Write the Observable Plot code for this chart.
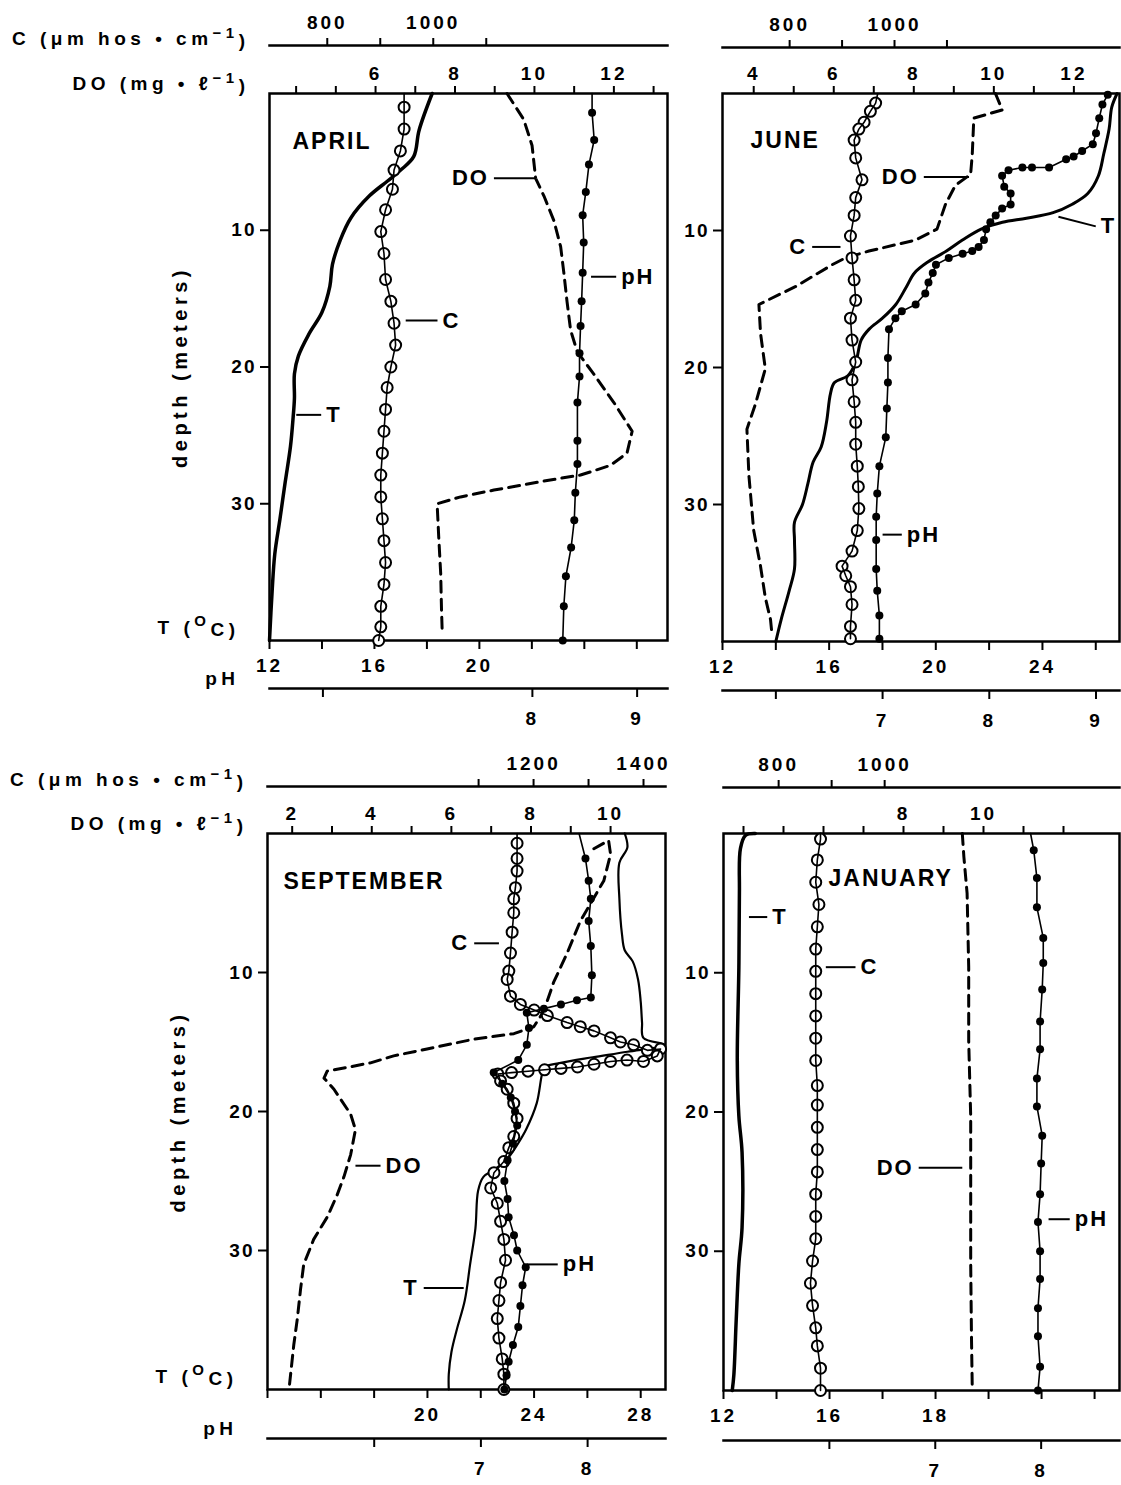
<!DOCTYPE html>
<html><head><meta charset="utf-8">
<script src="https://cdn.jsdelivr.net/npm/d3@7"></script>
<script src="https://cdn.jsdelivr.net/npm/@observablehq/plot@0.6"></script>
<style>
body{margin:0;background:#fff;}
#chart{position:relative;width:1121px;height:1485px;overflow:hidden;background:#fff;}
#chart svg{position:absolute;left:0;}
</style></head><body><div id="chart"></div>
<script>
// ---------- DATA: [depth (m), value] ----------
// APRIL
const aprilT = [[0,18.2],[2.7,17.7],[4.6,17.5],[5.6,17.0],[6.4,16.5],[7.5,15.8],[9.1,15.1],[10.7,14.7],[12.5,14.4],[14.1,14.3],[16.0,14.0],[17.6,13.5],[19.2,13.1],[20.5,12.95],[22.3,12.95],[23.7,12.9],[25.8,12.8],[28.4,12.6],[31.1,12.4],[33.7,12.2],[36.4,12.1],[40,12.0]];
const aprilDO = [[0,9.31],[1.9,9.73],[3.8,9.94],[6.2,10.03],[7.5,10.24],[9.3,10.49],[11.2,10.66],[13.1,10.74],[15.2,10.82],[17.3,10.91],[18.9,11.08],[20.5,11.49],[22.6,12.0],[24.7,12.46],[26.3,12.33],[27.2,11.91],[27.9,11.16],[28.3,10.32],[29.0,8.98],[29.5,8.14],[30.0,7.55],[32.4,7.59],[35.1,7.64],[37.7,7.66],[39.5,7.68]];
const aprilC = [[0,945],[1.0,945],[2.6,945],[4.2,938],[5.6,926],[7.0,923],[8.5,910],[10.1,901],[11.7,907],[13.6,910],[15.2,920],[16.8,926],[18.4,929],[20.0,920],[21.5,913],[23.1,910],[24.7,907],[26.3,904],[27.9,901],[29.5,901],[31.1,904],[32.7,907],[34.3,910],[35.9,907],[37.5,901],[39.0,901],[40,897]];
const aprilPH = [[0,8.57],[1.4,8.57],[3.4,8.59],[5.2,8.54],[7.2,8.51],[8.9,8.48],[10.9,8.49],[13.1,8.48],[15.2,8.47],[17.0,8.46],[19.0,8.45],[20.7,8.45],[22.6,8.43],[25.4,8.43],[27.1,8.43],[29.2,8.41],[31.2,8.40],[33.2,8.37],[35.3,8.32],[37.5,8.30],[40,8.29]];
// JUNE
const juneT = [[0,26.8],[1.0,26.6],[2.6,26.5],[4.4,26.3],[6.0,26.1],[7.3,25.7],[8.1,25.1],[8.7,24.4],[9.1,23.4],[9.4,22.5],[9.9,21.7],[10.7,21.0],[11.5,20.4],[12.3,19.7],[13.1,19.2],[14.1,18.9],[15.4,18.5],[16.4,18.0],[17.2,17.5],[18.0,17.2],[19.6,17.0],[20.6,16.7],[21.1,16.2],[21.9,16.05],[24.0,15.9],[25.8,15.7],[26.9,15.4],[28.5,15.2],[30.0,15.0],[31.3,14.7],[32.6,14.7],[34.7,14.7],[36.3,14.5],[38.4,14.2],[40,14.0]];
const juneDO = [[0,10.04],[1.2,10.21],[1.8,9.5],[4.5,9.46],[5.9,9.42],[6.7,9.04],[8.1,8.79],[9.9,8.58],[10.7,8.04],[11.5,6.88],[12.0,6.29],[12.5,5.96],[14.1,5.04],[15.4,4.13],[17.5,4.17],[20.1,4.29],[22.7,4.04],[24.5,3.83],[27.9,3.88],[31.9,4.0],[34.5,4.17],[36.8,4.29],[38.4,4.42],[39.3,4.45]];
const juneC = [[0,968],[0.7,964],[1.3,954],[2.1,942],[2.6,932],[3.4,923],[4.7,926],[6.3,938],[7.6,926],[8.9,923],[10.4,916],[12.0,919],[13.6,923],[15.1,926],[16.4,916],[18.0,919],[19.6,926],[20.9,919],[22.5,923],[24.0,926],[25.6,926],[27.2,929],[28.7,931],[30.3,932],[31.9,929],[33.4,919],[34.5,900],[35.2,907],[36.0,916],[37.3,919],[38.9,916],[39.8,916]];
const junePH = [[0.1,9.11],[0.8,9.06],[1.8,9.03],[2.9,9.0],[3.7,8.97],[4.2,8.87],[4.6,8.79],[4.8,8.72],[5.4,8.56],[5.4,8.40],[5.4,8.31],[5.6,8.18],[6.0,8.12],[6.8,8.14],[7.3,8.2],[8.1,8.2],[8.4,8.12],[8.9,8.06],[9.4,8.01],[9.9,7.97],[10.7,7.95],[11.2,7.90],[11.5,7.84],[11.7,7.75],[12.0,7.62],[12.5,7.50],[13.1,7.47],[13.8,7.43],[14.6,7.40],[15.4,7.31],[15.9,7.18],[16.4,7.12],[17.2,7.06],[19.3,7.05],[21.1,7.05],[23.0,7.04],[25.1,7.03],[27.2,6.97],[29.2,6.95],[30.9,6.94],[32.6,6.94],[34.7,6.94],[36.3,6.95],[38.1,6.97],[39.8,6.97]];
// SEPTEMBER
const septT = [[0,27.4],[1.0,27.5],[2.1,27.2],[4.7,27.2],[7.3,27.3],[8.4,27.4],[9.2,27.7],[10.5,27.9],[12.1,28.0],[13.6,28.05],[14.7,28.1],[15.2,28.9],[15.7,27.5],[16.1,26.2],[16.5,25.0],[16.8,24.4],[17.3,24.3],[19.4,24.1],[21.3,23.7],[22.3,23.4],[23.4,23.0],[24.2,22.5],[24.7,22.1],[25.7,21.9],[28.4,21.8],[31.0,21.6],[33.6,21.4],[35.7,21.1],[37.3,20.9],[38.9,20.8],[40,20.8]];
const septDO = [[1.1,9.58],[0.5,9.95],[1.5,10.0],[3.4,9.83],[6.3,9.24],[8.6,8.91],[10.7,8.57],[12.8,8.32],[13.9,8.07],[14.4,7.57],[14.8,6.56],[15.5,5.39],[16.0,4.55],[16.5,3.97],[17.1,2.88],[17.6,2.80],[18.4,3.05],[20.2,3.47],[21.3,3.59],[23.1,3.47],[24.7,3.30],[26.0,3.13],[27.6,2.88],[29.2,2.54],[31.0,2.29],[32.8,2.21],[34.9,2.13],[36.8,2.04],[40,1.92]];
const septC = [[0,1170],[0.7,1170],[1.8,1170],[2.7,1170],[3.9,1167],[4.7,1164],[5.7,1164],[7.1,1161],[8.6,1158],[9.9,1155],[10.5,1152],[11.7,1158],[12.3,1176],[12.7,1201],[13.1,1225],[13.6,1261],[13.9,1285],[14.2,1310],[14.7,1340],[15.0,1358],[15.2,1382],[15.6,1407],[15.5,1431],[16.0,1425],[16.4,1400],[16.3,1370],[16.4,1340],[16.6,1310],[16.8,1280],[16.9,1250],[17.0,1220],[17.1,1190],[17.2,1160],[17.3,1135],[17.8,1140],[18.4,1152],[19.4,1164],[20.5,1170],[21.8,1164],[22.6,1155],[23.6,1146],[24.4,1128],[25.5,1122],[26.6,1134],[27.9,1140],[29.2,1146],[30.7,1149],[32.3,1140],[33.6,1137],[34.9,1134],[36.3,1137],[37.8,1143],[38.9,1146],[40,1146]];
const septPH = [[0,7.92],[1.8,7.98],[3.4,8.01],[4.7,8.03],[6.3,8.01],[8.1,8.03],[10.2,8.04],[11.8,8.03],[12.0,7.90],[12.3,7.75],[12.6,7.59],[12.9,7.43],[14.0,7.45],[15.2,7.43],[16.3,7.35],[17.2,7.12],[18.0,7.20],[19.0,7.28],[20.0,7.32],[21.0,7.34],[22.3,7.30],[23.5,7.25],[25.0,7.22],[26.3,7.25],[27.6,7.26],[28.9,7.31],[30.0,7.34],[31.2,7.42],[32.5,7.39],[34.0,7.37],[35.5,7.35],[36.8,7.30],[38.0,7.26],[39.0,7.24],[40,7.22]];
// JANUARY
const janT = [[0,13.2],[0.13,12.83],[1.07,12.64],[4.27,12.6],[9.6,12.58],[16.3,12.52],[20.3,12.58],[22.9,12.7],[28.3,12.7],[30.9,12.58],[34.9,12.48],[38.9,12.39],[40,12.33]];
const janDO = [[0,9.47],[1.7,9.51],[4.3,9.59],[9.6,9.63],[14.9,9.63],[20.3,9.68],[25.6,9.68],[30.9,9.68],[36.3,9.70],[40,9.72]];
const janC = [[0,879],[0.4,879],[1.9,873],[3.5,870],[5.1,876],[6.7,873],[8.3,870],[9.9,870],[11.5,870],[13.1,870],[14.7,870],[16.3,870],[18.1,873],[19.5,873],[21.1,873],[22.7,873],[24.3,873],[25.9,870],[27.5,870],[29.1,870],[30.7,864],[32.3,860],[33.9,864],[35.5,870],[36.8,873],[38.4,879],[40,879]];
const janPH = [[0,7.90],[1.2,7.93],[3.2,7.96],[5.3,7.96],[7.5,8.02],[9.3,8.02],[11.2,8.01],[13.5,7.99],[15.5,7.99],[17.6,7.96],[19.6,7.96],[21.7,8.01],[23.7,8.0],[25.9,7.99],[27.9,7.97],[30.0,7.99],[32.0,7.99],[34.1,7.97],[36.1,7.97],[38.3,7.99],[40,7.97]];

// ---------- TICKS & TICK LABELS ----------
const depthTicks = [10, 20, 30];
const aprilTTicks = [12,14,16,18,20,22,24,26], aprilTLabels = [[12,"12"],[16,"16"],[20,"20"]];
const aprilDOTicks = [4,5,6,7,8,9,10,11,12,13], aprilDOLabels = [[6,"6"],[8,"8"],[10,"10"],[12,"12"]];
const aprilCTicks = [800,900,1000,1100], aprilCLabels = [[800,"800"],[1000,"1000"]];
const aprilPHTicks = [6,8,9], aprilPHLabels = [[8,"8"],[9,"9"]];
const juneTTicks = [12,14,16,18,20,22,24,26], juneTLabels = [[12,"12"],[16,"16"],[20,"20"],[24,"24"]];
const juneDOTicks = [4,5,6,7,8,9,10,11,12], juneDOLabels = [[4,"4"],[6,"6"],[8,"8"],[10,"10"],[12,"12"]];
const juneCTicks = [800,900,1000,1100], juneCLabels = [[800,"800"],[1000,"1000"]];
const junePHTicks = [6,7,8,9], junePHLabels = [[7,"7"],[8,"8"],[9,"9"]];
const septTTicks = [14,16,18,20,22,24,26,28], septTLabels = [[20,"20"],[24,"24"],[28,"28"]];
const septDOTicks = [2,3,4,5,6,7,8,9,10], septDOLabels = [[2,"2"],[4,"4"],[6,"6"],[8,"8"],[10,"10"]];
const septCTicks = [1100,1200,1300,1400], septCLabels = [[1200,"1200"],[1400,"1400"]];
const septPHTicks = [6,7,8], septPHLabels = [[7,"7"],[8,"8"]];
const janTTicks = [12,14,16,18,20,22,24,26], janTLabels = [[12,"12"],[16,"16"],[20,"18"]];
const janDOTicks = [4,5,6,7,8,9,10,11,12], janDOLabels = [[8,"8"],[10,"10"]];
const janCTicks = [800,900,1000], janCLabels = [[800,"800"],[1000,"1000"]];
const janPHTicks = [6,7,8], janPHLabels = [[7,"7"],[8,"8"]];

// ---------- AXIS TITLES ----------
const cTitle = "C (μm hos • cm⁻¹)", doTitle = "DO (mg • ℓ⁻¹)", tTitle = "T (°C)", phTitle = "pH", depthTitle = "depth (meters)";
const titleParts = new Map([
  [cTitle, ["C (μm hos • cm", "−1", ")"]],
  [doTitle, ["DO (mg • ℓ", "−1", ")"]],
  [tTitle, ["T (", "O", "C)"]]
]);

// ---------- ANNOTATIONS (series units, depth) ----------
const aprilNotes = [
  {s:"DO", x1:8.98, y1:6.2, x2:10.03, y2:6.2, text:"DO", side:"end"},
  {s:"pH", x1:8.56, y1:13.4, x2:8.80, y2:13.4, text:"pH", side:"start"},
  {s:"C", x1:948, y1:16.6, x2:1008, y2:16.6, text:"C", side:"start"},
  {s:"T", x1:13.02, y1:23.5, x2:13.97, y2:23.5, text:"T", side:"start"}];
const juneNotes = [
  {s:"DO", x1:8.25, y1:6.1, x2:9.38, y2:6.1, text:"DO", side:"end"},
  {s:"C", x1:843, y1:11.2, x2:897, y2:11.2, text:"C", side:"end"},
  {s:"T", x1:24.6, y1:9.0, x2:26.0, y2:9.7, text:"T", side:"start"},
  {s:"pH", x1:7.0, y1:32.2, x2:7.18, y2:32.2, text:"pH", side:"start"}];
const septNotes = [
  {s:"C", x1:1092, y1:7.9, x2:1137, y2:7.9, text:"C", side:"end"},
  {s:"DO", x1:3.59, y1:23.9, x2:4.22, y2:23.9, text:"DO", side:"start"},
  {s:"T", x1:19.86, y1:32.7, x2:21.36, y2:32.7, text:"T", side:"end"},
  {s:"pH", x1:7.43, y1:31.0, x2:7.72, y2:31.0, text:"pH", side:"start"}];
const janNotes = [
  {s:"T", x1:12.96, y1:6.0, x2:13.65, y2:6.0, text:"T", side:"start"},
  {s:"C", x1:889, y1:9.6, x2:945, y2:9.6, text:"C", side:"start"},
  {s:"DO", x1:8.38, y1:24.0, x2:9.47, y2:24.0, text:"DO", side:"end"},
  {s:"pH", x1:8.07, y1:27.7, x2:8.27, y2:27.7, text:"pH", side:"start"}];

// ---------- LAYOUT ----------
const W = 1121;
const rows = [{top:0, h:740}, {top:740, h:745}];
const panels = [
  {name:"APRIL", row:0, left:269, right:667, top:93, bottom:640, cLine:45, phLine:688, yTitle:true, nameDx:23, nameDy:39, tWidth:3.5,
   tDomain:[12,27.17], doDomain:[3.33,13.35], cDomain:[691,1442], phDomain:[5.49,9.29],
   T:aprilT, DO:aprilDO, C:aprilC, pH:aprilPH, notes:aprilNotes,
   tTicks:aprilTTicks, tLabels:aprilTLabels, doTicks:aprilDOTicks, doLabels:aprilDOLabels, cTicks:aprilCTicks, cLabels:aprilCLabels, phTicks:aprilPHTicks, phLabels:aprilPHLabels},
  {name:"JUNE", row:0, left:722, right:1119, top:93, bottom:641, cLine:47, phLine:690, yTitle:false, nameDx:28, nameDy:38, tWidth:3,
   tDomain:[12,26.89], doDomain:[3.22,13.14], cDomain:[672,1429], phDomain:[5.5,9.22],
   T:juneT, DO:juneDO, C:juneC, pH:junePH, notes:juneNotes,
   tTicks:juneTTicks, tLabels:juneTLabels, doTicks:juneDOTicks, doLabels:juneDOLabels, cTicks:juneCTicks, cLabels:juneCLabels, phTicks:junePHTicks, phLabels:junePHLabels},
  {name:"SEPTEMBER", row:1, left:267, right:665, top:833, bottom:1389, cLine:786, phLine:1438, yTitle:true, nameDx:16, nameDy:39, tWidth:2.2,
   tDomain:[14,28.93], doDomain:[1.38,11.38], cDomain:[716,1440], phDomain:[5,8.73],
   T:septT, DO:septDO, C:septC, pH:septPH, notes:septNotes,
   tTicks:septTTicks, tLabels:septTLabels, doTicks:septDOTicks, doLabels:septDOLabels, cTicks:septCTicks, cLabels:septCLabels, phTicks:septPHTicks, phLabels:septPHLabels},
  {name:"JANUARY", row:1, left:723, right:1119, top:833, bottom:1390, cLine:787, phLine:1440, yTitle:false, nameDx:105, nameDy:36, tWidth:3.5,
   tDomain:[12,26.94], doDomain:[3.5,13.4], cDomain:[696,1443], phDomain:[5,8.74],
   T:janT, DO:janDO, C:janC, pH:janPH, notes:janNotes,
   tTicks:janTTicks, tLabels:janTLabels, doTicks:janDOTicks, doLabels:janDOLabels, cTicks:janCTicks, cLabels:janCLabels, phTicks:janPHTicks, phLabels:janPHLabels}
];

const FONT = "'Liberation Sans', 'DejaVu Sans', Arial, sans-serif";
const style = {background:"transparent", fontFamily:FONT, fontSize:"18px", fontWeight:"bold", letterSpacing:"2px", color:"black", overflow:"visible"};
const fmt = labels => { const m = new Map(labels); return v => m.has(v) ? m.get(v) : ""; };
const X = d => d[1], Y = d => d[0];
const axisOpts = {tickSize:9, tickPadding:7, strokeWidth:2, label:null, fontSize:19};
const TITLE_SIZE = 19, NOTE_SIZE = 22;

function noteMarks(notes, key) {
  const ns = notes.filter(n => n.s === key);
  return [
    Plot.link(ns, {x1:"x1", y1:"y1", x2:"x2", y2:"y2", stroke:"black", strokeWidth:2}),
    Plot.text(ns.filter(n => n.side === "end"), {x:"x1", y:"y1", text:"text", textAnchor:"end", dx:-5, fontSize:NOTE_SIZE, fontWeight:"bold"}),
    Plot.text(ns.filter(n => n.side === "start"), {x:"x2", y:"y2", text:"text", textAnchor:"start", dx:5, fontSize:NOTE_SIZE, fontWeight:"bold"})
  ];
}

const chart = document.getElementById("chart");
const spaced = new Set([cTitle, doTitle, tTitle, phTitle, depthTitle]);
function place(svg, top) {
  svg.style.top = top + "px"; svg.style.left = "0px";
  const s = d3.select(svg);
  s.selectAll('[aria-label="x-axis tick label"] text').style("letter-spacing", "3px");
  s.selectAll("text").filter(function() {
      const g = this.closest("g");
      const isNote = g && g.getAttribute("font-size") === String(NOTE_SIZE);
      return !isNote && spaced.has(this.textContent);
    })
    .style("letter-spacing", "4.5px")
    .each(function() {
      const parts = titleParts.get(this.textContent);
      if (!parts) return;
      const t = d3.select(this);
      t.text(null);
      t.append("tspan").text(parts[0]);
      t.append("tspan").attr("dy", "-0.5em").attr("font-size", "15px").text(parts[1]);
      t.append("tspan").attr("dy", "0.5em").text(parts[2]);
    });
  chart.appendChild(svg);
}

for (const p of panels) {
  const row = rows[p.row];
  const yr = [p.top - row.top, p.bottom - row.top];
  const common = {width:W, height:row.h, marginLeft:p.left, marginRight:W - p.right, style};
  const yScale = {domain:[0,40], range:yr, axis:null};
  const frameMargins = {marginTop:yr[0], marginBottom:row.h - yr[1]};

  // Base: frame, depth axis, temperature
  place(Plot.plot({...common, ...frameMargins, x:{domain:p.tDomain}, y:{domain:[0,40], range:yr},
    marks:[
      Plot.frame({stroke:"black", strokeWidth:2.5}),
      Plot.axisY({ticks:depthTicks, tickSize:9, tickPadding:4, strokeWidth:2, fontSize:19, label:null}),
      Plot.axisX({anchor:"bottom", ticks:p.tTicks, tickFormat:fmt(p.tLabels), ...axisOpts, tickPadding:9}),
      Plot.line(p.T, {x:X, y:Y, stroke:"black", strokeWidth:p.tWidth, curve:"catmull-rom"}),
      ...noteMarks(p.notes, "T"),
      Plot.text([p.name], {frameAnchor:"top-left", dx:p.nameDx, dy:p.nameDy, textAnchor:"start", fontSize:23, fontWeight:"bold"}),
      p.yTitle ? Plot.text([depthTitle], {frameAnchor:"left", textAnchor:"middle", dx:-89, rotate:-90, fontSize:20}) : null,
      p.yTitle ? Plot.text([tTitle], {frameAnchor:"bottom-left", dx:-30, dy:-7, textAnchor:"end", fontSize:TITLE_SIZE}) : null
    ]}), row.top);

  // Dissolved oxygen (axis on top of frame)
  place(Plot.plot({...common, ...frameMargins, x:{domain:p.doDomain}, y:yScale,
    marks:[
      Plot.axisX({anchor:"top", ticks:p.doTicks, tickFormat:fmt(p.doLabels), ...axisOpts, tickSize:8, tickPadding:6}),
      Plot.line(p.DO, {x:X, y:Y, stroke:"black", strokeWidth:3, strokeDasharray:"11,7"}),
      ...noteMarks(p.notes, "DO"),
      p.yTitle ? Plot.text([doTitle], {frameAnchor:"top-left", dx:-20, dy:-17, textAnchor:"end", fontSize:TITLE_SIZE}) : null
    ]}), row.top);

  // Conductivity (separate axis line above)
  place(Plot.plot({...common, marginTop:p.cLine - row.top, marginBottom:row.h - yr[1], x:{domain:p.cDomain}, y:yScale,
    marks:[
      Plot.frame({anchor:"top", stroke:"black", strokeWidth:2.5}),
      Plot.axisX({anchor:"top", ticks:p.cTicks, tickFormat:fmt(p.cLabels), ...axisOpts, tickSize:8, tickPadding:9}),
      Plot.dot(p.C.filter(d => d[0] > 0), {x:X, y:Y, r:5.5, fill:"white", stroke:"black", strokeWidth:2}),
      Plot.line(p.C, {x:X, y:Y, stroke:"black", strokeWidth:1.6}),
      ...noteMarks(p.notes, "C"),
      p.yTitle ? Plot.text([cTitle], {frameAnchor:"top-left", dx:-20, dy:-14, textAnchor:"end", fontSize:TITLE_SIZE}) : null
    ]}), row.top);

  // pH (separate axis line below)
  place(Plot.plot({...common, marginTop:yr[0], marginBottom:row.h - (p.phLine - row.top), x:{domain:p.phDomain}, y:yScale,
    marks:[
      Plot.frame({anchor:"bottom", stroke:"black", strokeWidth:2.5}),
      Plot.axisX({anchor:"bottom", ticks:p.phTicks, tickFormat:fmt(p.phLabels), ...axisOpts, tickPadding:14}),
      Plot.line(p.pH, {x:X, y:Y, stroke:"black", strokeWidth:1.6}),
      Plot.dot(p.pH.filter(d => d[0] > 0), {x:X, y:Y, r:4, fill:"black"}),
      ...noteMarks(p.notes, "pH"),
      p.yTitle ? Plot.text([phTitle], {frameAnchor:"bottom-left", dx:-30, dy:-4, textAnchor:"end", fontSize:TITLE_SIZE}) : null
    ]}), row.top);
}
</script></body></html>
